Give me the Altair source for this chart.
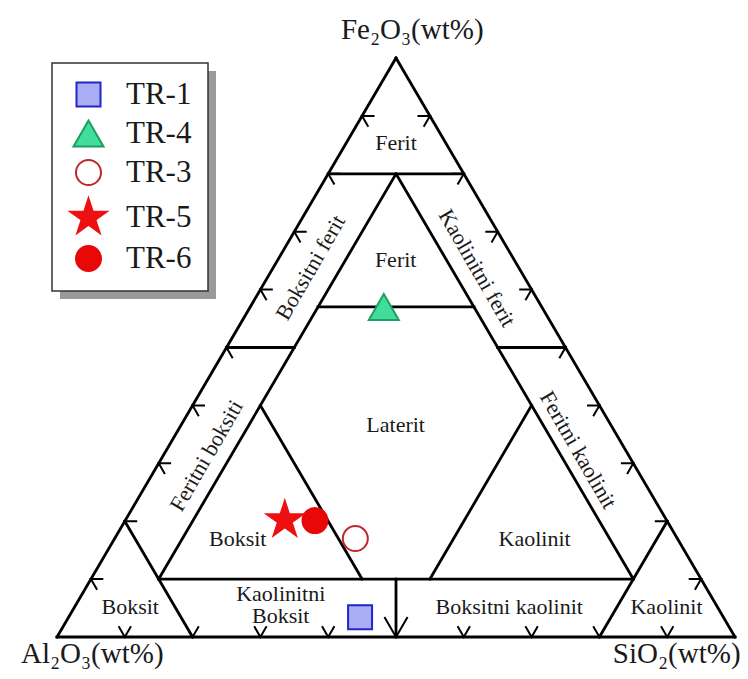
import altair as alt
import pandas as pd

# ---- samples (wt%) ----
samples = ["TR-1", "TR-4", "TR-3", "TR-5", "TR-6"]
fe2o3 = [3.4, 57.0, 17.0, 20.2, 20.1]
sio2 = [43.0, 19.7, 35.5, 23.5, 28.0]
al2o3 = [53.6, 23.3, 47.5, 56.3, 51.9]
fill_colors = ["#a9adf3", "#40dd9c", "#ffffff", "#ee1010", "#e80808"]
stroke_colors = ["#2525c8", "#1f9e62", "#c0282d", "#ee1010", "#e80808"]

# ---- classification boundaries: segment ends as (Fe2O3 %, SiO2 %) ----
seg_fe_a = [0, 0, 100, 80, 80, 80, 57, 50, 50, 10, 40, 40, 20, 20, 10]
seg_si_a = [0, 100, 0, 0, 10, 10, 10, 0, 40, 10, 10, 50, 0, 80, 45]
seg_fe_b = [0, 100, 0, 80, 10, 10, 57, 50, 50, 10, 10, 10, 0, 0, 0]
seg_si_b = [100, 0, 0, 20, 10, 80, 33, 10, 50, 80, 40, 50, 20, 80, 50]

# ---- arrow ticks on the sides ----
tick_left_fe = [10, 20, 30, 40, 50, 60, 70, 80, 90]
tick_right_fe = [10, 20, 30, 40, 50, 60, 70, 80, 90]
tick_right_si = [90, 80, 70, 60, 50, 40, 30, 20, 10]
tick_bottom_si = [10, 20, 30, 40, 60, 70, 80, 90]
arrow_si = [50]

# ---- field names ----
region_names = ["Ferit", "Ferit", "Laterit", "Boksit", "Kaolinit", "Boksit",
                "Kaolinitni\nBoksit", "Boksitni kaolinit", "Kaolinit",
                "Boksitni ferit", "Kaolinitni ferit", "Feritni boksiti", "Feritni kaolinit"]
region_fe = [85.4, 65.1, 36.7, 16.9, 16.9, 5.2, 7.4, 5.2, 5.2, 63.8, 63.7, 31.3, 32.3]
region_si = [7.3, 17.4, 31.6, 18.2, 62.0, 8.2, 29.3, 64.1, 87.3, 5.5, 30.1, 6.4, 60.7]
region_angle = [0, 0, 0, 0, 0, 0, 0, 0, 0, 300, 60, 300, 60]

# ---- apex labels ----
apex_names = ["Fe₂O₃(wt%)", "Al₂O₃(wt%)", "SiO₂(wt%)"]
apex_fe = [104.8, -3.0, -3.0]
apex_si = [0.0, 6.7, 92.9]

FONT = "Liberation Serif"
W, H = 732, 663
xs = alt.Scale(domain=[-7.227, 100.737], nice=False, zero=False)
ys = alt.Scale(domain=[-5.872, 108.636], nice=False, zero=False)

def tern(ch, fe="fe", si="si", px="x", py="y"):
    return ch.transform_calculate(**{px: f"datum.{si} + datum.{fe} / 2", py: f"datum.{fe}"})

X = lambda f: alt.X(f"{f}:Q", scale=xs, axis=None)
Y = lambda f: alt.Y(f"{f}:Q", scale=ys, axis=None)

seg_df = pd.DataFrame({"fa": seg_fe_a, "sa": seg_si_a, "fb": seg_fe_b, "sb": seg_si_b})
lines = alt.Chart(seg_df).transform_calculate(
    xa="datum.sa + datum.fa / 2", ya="datum.fa",
    xb="datum.sb + datum.fb / 2", yb="datum.fb",
).mark_rule(color="black", strokeWidth=2.8, strokeCap="square").encode(
    x=X("xa"), y=Y("ya"), x2="xb:Q", y2="yb:Q"
)

vpath = "M-0.5,-0.866L0,0L0.5,-0.866"

def ticks(fe_list, si_list, angle, size):
    df = pd.DataFrame({"fe": fe_list, "si": si_list})
    return tern(alt.Chart(df)).mark_point(
        shape=vpath, angle=angle, size=size, color="black", strokeWidth=2,
        opacity=1, filled=False
    ).encode(x=X("x"), y=Y("y"))

t_left = ticks(tick_left_fe, [0] * len(tick_left_fe), 120, 615)
t_right = ticks(tick_right_fe, tick_right_si, 240, 615)
t_bottom = ticks([0] * len(tick_bottom_si), tick_bottom_si, 0, 615)
t_arrow = ticks([0], arrow_si, 0, 2150)

reg_df = pd.DataFrame({"name": region_names, "fe": region_fe, "si": region_si, "angle": region_angle})
regions = tern(alt.Chart(reg_df)).mark_text(
    font=FONT, fontSize=22, color="#1a1a1a", align="center", baseline="middle",
    lineBreak="\n", lineHeight=22
).encode(x=X("x"), y=Y("y"), text="name:N", angle=alt.Angle("angle:Q", scale=None))

apex_df = pd.DataFrame({"name": apex_names, "fe": apex_fe, "si": apex_si})
apex = tern(alt.Chart(apex_df)).mark_text(
    font=FONT, fontSize=29, color="#1a1a1a", align="center", baseline="middle"
).encode(x=X("x"), y=Y("y"), text="name:N")

star = ("M0,-1.9L0.4266,-0.5871L1.8069,-0.5871L0.6903,0.2242L1.1168,1.5371L0,0.7258"
        "L-1.1168,1.5371L-0.6903,0.2242L-1.8069,-0.5871L-0.4266,-0.5871Z")
square = "M-1.2,-1.2L1.2,-1.2L1.2,1.2L-1.2,1.2Z"
tri = "M0,-1.3L1.5,1.3L-1.5,1.3Z"
circ = "M-1.25,0A1.25,1.25,0,1,0,1.25,0A1.25,1.25,0,1,0,-1.25,0Z"
shape_paths = [square, tri, circ, star, circ]

leg = alt.Legend(title=None, labelFont=FONT, labelFontSize=31)
pts_df = pd.DataFrame({"sample": samples, "fe": fe2o3, "si": sio2, "al": al2o3})
points = tern(alt.Chart(pts_df)).mark_point(
    filled=True, size=400, strokeWidth=2, opacity=1
).encode(
    x=X("x"), y=Y("y"),
    shape=alt.Shape("sample:N", scale=alt.Scale(domain=samples, range=shape_paths), legend=leg),
    fill=alt.Fill("sample:N", scale=alt.Scale(domain=samples, range=fill_colors), legend=leg),
    stroke=alt.Stroke("sample:N", scale=alt.Scale(domain=samples, range=stroke_colors), legend=leg),
)

shadow = alt.Chart(alt.Data(values=[{"k": 1}])).mark_rect(color="#9a9a9a").encode(
    x=alt.value(52), x2=alt.value(208), y=alt.value(63), y2=alt.value(291)
)

chart = alt.layer(shadow, lines, t_left, t_right, t_bottom, t_arrow, regions, apex, points).properties(
    width=W, height=H, padding=0, autosize="none"
).configure_view(stroke=None).configure_legend(
    orient="none", legendX=44, legendY=55,
    strokeColor="#333333", fillColor="white", strokeWidth=1.5,
    padding=16, labelFont=FONT, labelFontSize=31, labelColor="#1a1a1a",
    symbolSize=400, symbolStrokeWidth=2, symbolOpacity=1, rowPadding=5,
    labelOffset=22, symbolOffset=5
)

chart.save("out.html", embed_options={"renderer": "svg", "actions": False})
